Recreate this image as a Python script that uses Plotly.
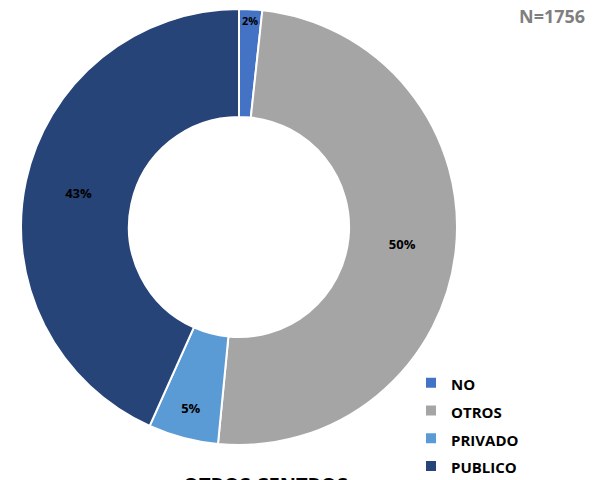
import plotly.graph_objects as go

# valores (N=1756)
categorias = ["NO", "OTROS", "PRIVADO", "PUBLICO"]
conteos = [30, 875, 91, 760]
colores = ["#4472C4", "#A5A5A5", "#5B9BD5", "#264478"]
titulo = "OTROS CENTROS"
total_txt = "N=1756"

# la pagina tiene 8px de margen, asi que la figura es algo mas chica
W, H = 585, 472
l, r, t, b = 13, 136, 1, 35
pw, ph = W - l - r, H - t - b

fig = go.Figure(go.Pie(
    labels=[f'<span style="font-size:15px">{c}</span>' for c in categorias],
    values=conteos,
    hole=0.505,
    sort=False,
    direction="clockwise",
    rotation=0,
    marker=dict(colors=colores, line=dict(color="white", width=2)),
    texttemplate="%{percent:.0%}",
    textposition="inside",
    insidetextorientation="horizontal",
    textfont=dict(family="Open Sans", size=13, color="black", weight="bold"),
    hoverinfo="label+value+percent",
))

fig.update_layout(
    width=W, height=H,
    margin=dict(l=l, r=r, t=t, b=b, autoexpand=False),
    paper_bgcolor="white",
    plot_bgcolor="white",
    font=dict(family="Open Sans"),
    legend=dict(
        x=(403 - l) / pw, y=1 - (356 - t) / ph,
        xanchor="left", yanchor="top",
        font=dict(family="Open Sans", size=19, color="black", weight="bold"),
        bgcolor="rgba(0,0,0,0)",
    ),
    annotations=[
        dict(text=total_txt, xref="paper", yref="paper",
             x=(579 - l) / pw, y=1 - (8 - t) / ph, xanchor="right", yanchor="middle",
             showarrow=False,
             font=dict(family="Open Sans", size=18, color="#7F7F7F", weight="bold")),
        dict(text=titulo, xref="paper", yref="paper",
             x=(257 - l) / pw, y=1 - (461 - t) / ph, xanchor="center", yanchor="top",
             showarrow=False,
             font=dict(family="Open Sans", size=20, color="black", weight="bold")),
    ],
)

fig.write_html("out.html")
